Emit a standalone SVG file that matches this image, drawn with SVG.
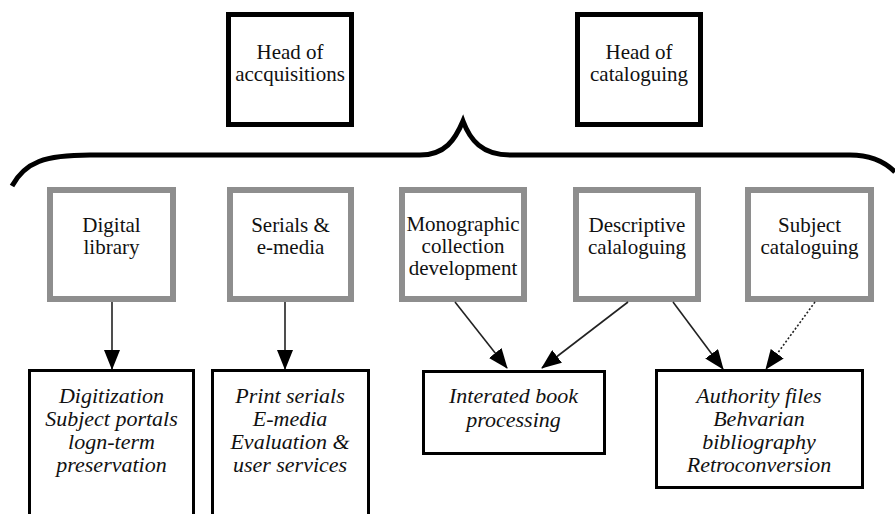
<svg xmlns="http://www.w3.org/2000/svg" width="895" height="514" viewBox="0 0 895 514">
<style>
.head{fill:#fff;stroke:#000;stroke-width:5}
.mid{fill:#fff;stroke:#8e8e8e;stroke-width:6}
.low{fill:#fff;stroke:#000;stroke-width:3}
.t{font-family:'Liberation Serif','Tinos','DejaVu Serif',serif;fill:#111;text-anchor:middle}
.tu{font-size:21px}
.tm{font-size:21px}
.ti{font-size:22px;font-style:italic}
.c{stroke:#222;stroke-width:1.6;fill:none}
.dot{stroke-dasharray:2 2}
</style>
<defs>
<marker id="ah" markerUnits="userSpaceOnUse" markerWidth="20" markerHeight="16" refX="19" refY="8" orient="auto">
<path d="M0,0 L20,8 L0,16 Z" fill="#000"/>
</marker>
</defs>
<path d="M12 186 C25 162,45 155,90 155 L420 155 C445 155,455 140,463 121 C470 140,482 155,510 155 L850 155 C870 155,885 162,895 172" fill="none" stroke="#000" stroke-width="5"/>
<g id="head-acq">
<rect class="head" x="228.5" y="14.5" width="123" height="110"/>
<text class="t tu" x="290" y="59" font-family="Liberation Serif, serif">Head of</text>
<text class="t tu" x="290" y="81" font-family="Liberation Serif, serif">accquisitions</text>
</g>
<g id="head-cat">
<rect class="head" x="577.5" y="14.5" width="123" height="110"/>
<text class="t tu" x="639" y="59" font-family="Liberation Serif, serif">Head of</text>
<text class="t tu" x="639" y="81" font-family="Liberation Serif, serif">cataloguing</text>
</g>
<g id="digital-library">
<rect class="mid" x="50" y="190" width="123" height="109"/>
<text class="t tm" x="111.5" y="232">Digital</text>
<text class="t tm" x="111.5" y="254">library</text>
</g>
<g id="serials">
<rect class="mid" x="230" y="190" width="121" height="109"/>
<text class="t tm" x="290.5" y="232">Serials &amp;</text>
<text class="t tm" x="290.5" y="254">e-media</text>
</g>
<g id="monographic">
<rect class="mid" x="402" y="190" width="122" height="109"/>
<text class="t tm" x="463" y="231">Monographic</text>
<text class="t tm" x="463" y="253">collection</text>
<text class="t tm" x="463" y="275">development</text>
</g>
<g id="descriptive">
<rect class="mid" x="576" y="190" width="122" height="109"/>
<text class="t tm" x="637" y="232">Descriptive</text>
<text class="t tm" x="637" y="254">calaloguing</text>
</g>
<g id="subject">
<rect class="mid" x="748" y="190" width="123" height="109"/>
<text class="t tm" x="809.5" y="232">Subject</text>
<text class="t tm" x="809.5" y="254">cataloguing</text>
</g>
<g id="digitization">
<rect class="low" x="29.5" y="370.5" width="164" height="170"/>
<text class="t ti" x="111.5" y="403">Digitization</text>
<text class="t ti" x="111.5" y="426">Subject portals</text>
<text class="t ti" x="111.5" y="449">logn-term</text>
<text class="t ti" x="111.5" y="472">preservation</text>
</g>
<g id="print-serials">
<rect class="low" x="212.5" y="370.5" width="156" height="170"/>
<text class="t ti" x="290" y="403">Print serials</text>
<text class="t ti" x="290" y="426">E-media</text>
<text class="t ti" x="290" y="449">Evaluation &amp;</text>
<text class="t ti" x="290" y="472">user services</text>
</g>
<g id="book-processing">
<rect class="low" x="423.5" y="371.5" width="181" height="82"/>
<text class="t ti" x="513.5" y="403">Interated book</text>
<text class="t ti" x="513.5" y="427">processing</text>
</g>
<g id="authority">
<rect class="low" x="656.5" y="370.5" width="206" height="117"/>
<text class="t ti" x="759" y="403">Authority files</text>
<text class="t ti" x="759" y="426">Behvarian</text>
<text class="t ti" x="759" y="449">bibliography</text>
<text class="t ti" x="759" y="472">Retroconversion</text>
</g>
<g id="connectors">
<line class="c" x1="112" y1="302" x2="112" y2="369" marker-end="url(#ah)"/>
<line class="c" x1="285" y1="302" x2="285" y2="369" marker-end="url(#ah)"/>
<line class="c" x1="455" y1="302" x2="507" y2="368" marker-end="url(#ah)"/>
<line class="c" x1="628" y1="302" x2="542" y2="368" marker-end="url(#ah)"/>
<line class="c" x1="673" y1="302" x2="723" y2="369" marker-end="url(#ah)"/>
<line class="c dot" x1="815" y1="302" x2="766" y2="369" marker-end="url(#ah)"/>
</g>
</svg>
